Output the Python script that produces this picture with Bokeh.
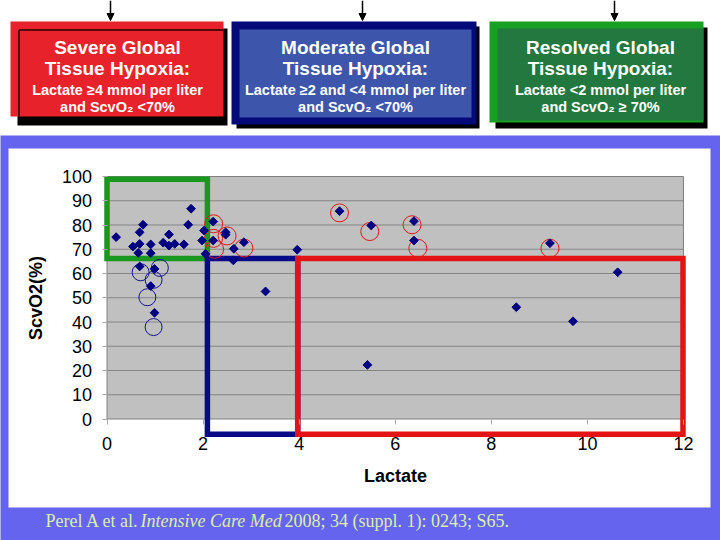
import numpy as np
from bokeh.plotting import figure
from bokeh.models import Range1d, FixedTicker, Arrow, NormalHead
from bokeh.layouts import column
from bokeh.embed import file_html
from bokeh.resources import INLINE
from bokeh.core.properties import value

# ---------------- data ----------------
lactate = [0.19, 0.54, 0.68, 0.75, 0.68, 0.65, 0.91, 0.91, 0.68, 0.99,
           0.91, 0.99, 1.17, 1.29, 1.29, 1.41, 1.60, 1.69, 1.75, 1.98,
           2.02, 2.05, 2.21, 2.21, 2.47, 2.47, 2.64, 2.63, 2.85, 3.30,
           3.96, 4.84, 5.50, 5.42, 6.39, 6.39, 8.52, 9.22, 9.70, 10.63]
scvo2 = [75.0, 71.1, 77.0, 80.1, 72.2, 68.5, 72.0, 68.4, 62.9, 61.9,
         54.8, 43.8, 72.7, 76.1, 71.5, 72.2, 72.0, 80.1, 86.7, 73.6,
         77.7, 68.1, 81.4, 73.6, 77.0, 76.0, 70.2, 65.4, 72.9, 52.6,
         69.8, 85.7, 79.8, 22.3, 81.6, 73.6, 46.1, 72.5, 40.3, 60.5]

red_circle_lactate = [2.22, 2.22, 2.24, 2.50, 2.85, 4.84, 5.47, 6.35, 6.47, 9.22]
red_circle_scvo2 = [80.5, 74.5, 70.0, 75.5, 70.5, 85.0, 77.3, 80.1, 70.4, 70.4]
blue_circle_lactate = [0.70, 0.97, 1.10, 0.84, 0.97]
blue_circle_scvo2 = [60.5, 57.4, 62.3, 50.2, 37.9]

x_ticks = [0, 2, 4, 6, 8, 10, 12]
y_ticks = [0, 10, 20, 30, 40, 50, 60, 70, 80, 90, 100]

zone_left = [0.0, 2.09, 3.97]
zone_right = [2.09, 3.97, 11.99]
zone_bottom = [66.2, -6.3, -6.3]
zone_top = [98.9, 66.2, 66.2]
zone_colors = ["#18981c", "#060a86", "#e41414"]

box_line1 = ["Severe Global", "Moderate Global", "Resolved Global"]
box_line2 = ["Tissue Hypoxia:", "Tissue Hypoxia:", "Tissue Hypoxia:"]
box_line3 = ["Lactate \u22654 mmol per liter", "Lactate \u22652 and <4 mmol per liter",
             "Lactate <2 mmol per liter"]
box_line4 = ["and ScvO\u2082 <70%", "and ScvO\u2082 <70%", "and ScvO\u2082 \u2265 70%"]

citation = ["Perel A et al. ", "Intensive Care Med", " 2008; 34 (suppl. 1): 0243; S65."]

# ---------------- layout constants (page pixels) ----------------
W = 720
TOP_H = 135
BOT_H = 405
BOT_TOP = TOP_H
BLUE_BG = "#6464ee"
FONT = value("Liberation Sans")

# ---------------- header figure ----------------
top = figure(width=W, height=TOP_H, x_range=Range1d(0, W), y_range=Range1d(TOP_H, 0),
             output_backend="svg", toolbar_location=None, min_border=0)
top.axis.visible = False
top.grid.visible = False
top.outline_line_color = None
top.background_fill_color = "white"
top.border_fill_color = "white"

# red box
top.quad(left=[17], right=[227], top=[28], bottom=[125], fill_color="black", line_color=None)
top.quad(left=[10], right=[223], top=[21], bottom=[116], fill_color="#e8222b", line_color=None)
top.segment(x0=[18.5, 18.5], y0=[29.5, 29.5], x1=[223, 18.5], y1=[29.5, 116],
            line_color="#200000", line_width=1.5)
# blue box
top.quad(left=[236], right=[479], top=[26], bottom=[128], fill_color="black", line_color=None)
top.quad(left=[231], right=[476], top=[21], bottom=[124], fill_color="#050a7a", line_color=None)
top.quad(left=[239], right=[471], top=[29], bottom=[117], fill_color="#3d55ab", line_color=None)
# green box
top.quad(left=[495], right=[707], top=[27], bottom=[128], fill_color="black", line_color=None)
top.quad(left=[489], right=[703], top=[21], bottom=[122], fill_color="#17a023", line_color=None)
top.quad(left=[497], right=[703], top=[28], bottom=[120], fill_color="#23783f", line_color=None)

centers = [117, 355, 600]
for lines, ypos, size in [(box_line1, 47, "19px"), (box_line2, 67.5, "19px"),
                          (box_line3, 89, "14.5px"), (box_line4, 106, "14.5px")]:
    top.text(x=centers, y=[ypos] * 3, text=lines, text_color="white", text_font=FONT,
             text_font_style="bold", text_font_size=size, text_align="center",
             text_baseline="middle")

for ax in [110, 362, 614]:
    top.add_layout(Arrow(end=NormalHead(size=7, fill_color="black", line_color="black"),
                         x_start=ax, y_start=0, x_end=ax, y_end=20,
                         line_color="black", line_width=1.5))

# ---------------- chart figure ----------------
PX0, PXU = 106.5, 48.04
PY0, PYU = 418.5, 2.425


def dx(px):
    return (px - PX0) / PXU


def dy(py):
    return (PY0 - py) / PYU


bot = figure(width=W, height=BOT_H,
             x_range=Range1d(dx(0), dx(W)),
             y_range=Range1d(dy(BOT_TOP + BOT_H), dy(BOT_TOP)),
             output_backend="svg", toolbar_location=None, min_border=0)
bot.grid.visible = False
bot.outline_line_color = None
bot.background_fill_color = BLUE_BG
bot.border_fill_color = BLUE_BG

# white panel
bot.quad(left=[dx(8)], right=[dx(710)], top=[dy(148)], bottom=[dy(507)],
         fill_color="white", line_color=None)
# plot area
bot.quad(left=[x_ticks[0]], right=[x_ticks[-1]], bottom=[y_ticks[0]], top=[y_ticks[-1]],
         fill_color="#c0c0c0", line_color="#808080", line_width=1)
bot.segment(x0=[x_ticks[0]] * (len(y_ticks) - 2), x1=[x_ticks[-1]] * (len(y_ticks) - 2),
            y0=y_ticks[1:-1], y1=y_ticks[1:-1], line_color="#858585", line_width=1)

# zone rectangles
bot.quad(left=zone_left, right=zone_right, bottom=zone_bottom, top=zone_top,
         fill_color=None, line_color=zone_colors, line_width=5.5, line_join="miter")

# circles
bot.scatter(x=blue_circle_lactate, y=blue_circle_scvo2, marker="circle", size=17,
            fill_color=None, line_color="#14148c", line_width=1)
bot.scatter(x=red_circle_lactate, y=red_circle_scvo2, marker="circle", size=18,
            fill_color=None, line_color="#e01818", line_width=1)

# points
bot.scatter(x=lactate, y=scvo2, marker="square", angle=np.pi / 4, size=6.2,
            fill_color="#000080", line_color="#000080", line_width=1)

# axes
xa = bot.xaxis[0]
ya = bot.yaxis[0]
xa.fixed_location = 0
ya.fixed_location = 0
xa.bounds = (x_ticks[0], x_ticks[-1])
ya.bounds = (y_ticks[0], y_ticks[-1])
xa.ticker = FixedTicker(ticks=x_ticks)
ya.ticker = FixedTicker(ticks=y_ticks)
for a in (xa, ya):
    a.axis_line_color = None
    a.major_tick_in = 0
    a.major_tick_out = 5
    a.major_tick_line_color = "#a8a8a8"
    a.minor_tick_line_color = None
    a.major_label_text_font = "Liberation Sans"
    a.major_label_text_font_size = "18px"
    a.major_label_text_color = "black"
    a.axis_label_text_font = "Liberation Sans"
    a.axis_label_text_font_size = "18px"
    a.axis_label_text_font_style = "bold"
    a.axis_label_text_color = "black"
xa.major_label_standoff = 13
ya.major_label_standoff = 10
xa.axis_label = "Lactate"
ya.axis_label = "ScvO2(%)"
xa.axis_label_standoff = 12
ya.axis_label_standoff = 13

# citation
cy = dy(520)
cite_x = [dx(45), dx(140), dx(284)]
styles = ["normal", "italic", "normal"]
for cx, txt, st in zip(cite_x, citation, styles):
    bot.text(x=[cx], y=[cy], text=[txt], text_font=value("Liberation Serif"),
             text_font_size="18px", text_font_style=st, text_color="#dcefa8",
             text_align="left", text_baseline="middle")

layout = column(top, bot, spacing=0)
open("out.html", "w").write(file_html(layout, INLINE))
